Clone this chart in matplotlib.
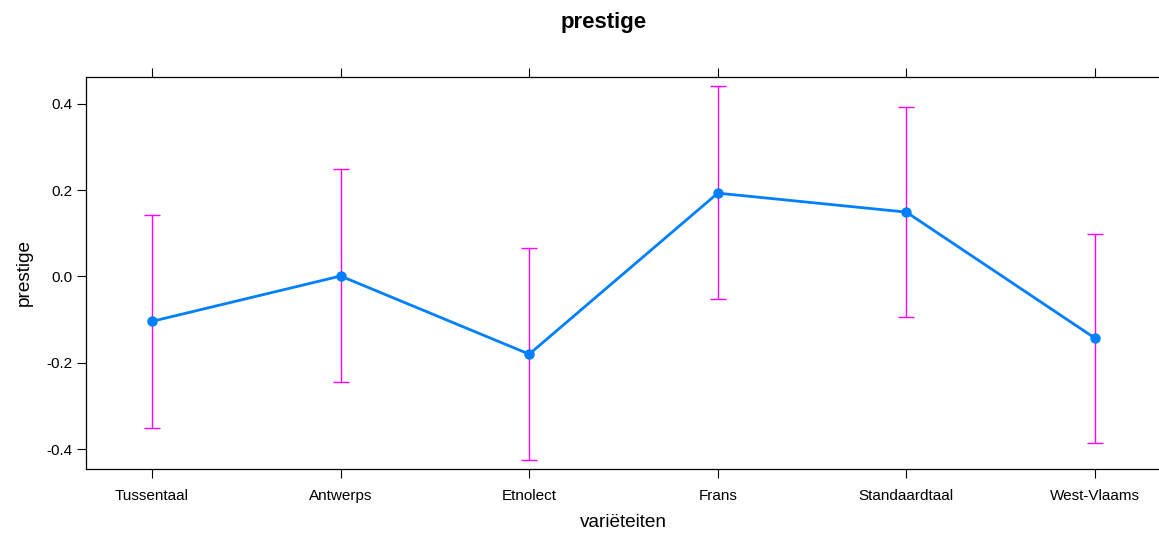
import numpy as np
import matplotlib.pyplot as plt

plt.rcParams['font.family'] = ['Liberation Sans', 'DejaVu Sans']

categories = ['Tussentaal', 'Antwerps', 'Etnolect', 'Frans', 'Standaardtaal', 'West-Vlaams']
fit = [-0.104, 0.001, -0.180, 0.193, 0.149, -0.143]
lower = [-0.350, -0.245, -0.425, -0.053, -0.095, -0.386]
upper = [0.143, 0.248, 0.067, 0.441, 0.393, 0.098]
yticks = [-0.4, -0.2, 0.0, 0.2, 0.4]

W, H = 1159, 533
fig = plt.figure(figsize=(W / 100, H / 100), dpi=100)
ax = fig.add_axes([86 / W, (H - 469) / H, (1161 - 86) / W, (469 - 77) / H])

x = np.arange(len(categories))
fit = np.array(fit)
lo = fit - np.array(lower)
hi = np.array(upper) - fit

ax.errorbar(x, fit, yerr=[lo, hi], fmt='none', ecolor='#FF00FF',
            elinewidth=1.0, capsize=5.8, capthick=1.0, zorder=2)
ax.plot(x, fit, color='#0080FF', lw=2.0, marker='o', ms=7.5,
        markeredgewidth=0, zorder=3)

ax.set_xlim(-0.35, 5.35)
ax.set_ylim(-0.446, 0.462)
ax.set_xticks(x)
ax.set_xticklabels(categories, fontsize=11)
ax.set_yticks(yticks)
ax.set_yticklabels(['%.1f' % v for v in yticks], fontsize=11)

ax.tick_params(axis='x', direction='out', length=6.5, width=0.8,
               top=True, bottom=True, pad=8)
ax.tick_params(axis='y', direction='out', length=6.5, width=0.8,
               left=True, right=False, pad=3)
for s in ax.spines.values():
    s.set_linewidth(0.9)

ax.set_xlabel('variëteiten', fontsize=13.7, labelpad=8)
ax.set_ylabel('prestige', fontsize=13.7, labelpad=10)
fig.text(604 / W, 1 - 22 / H, 'prestige', ha='center', va='center',
         fontsize=16, fontweight='bold')

fig.savefig('out.png', dpi=100)
